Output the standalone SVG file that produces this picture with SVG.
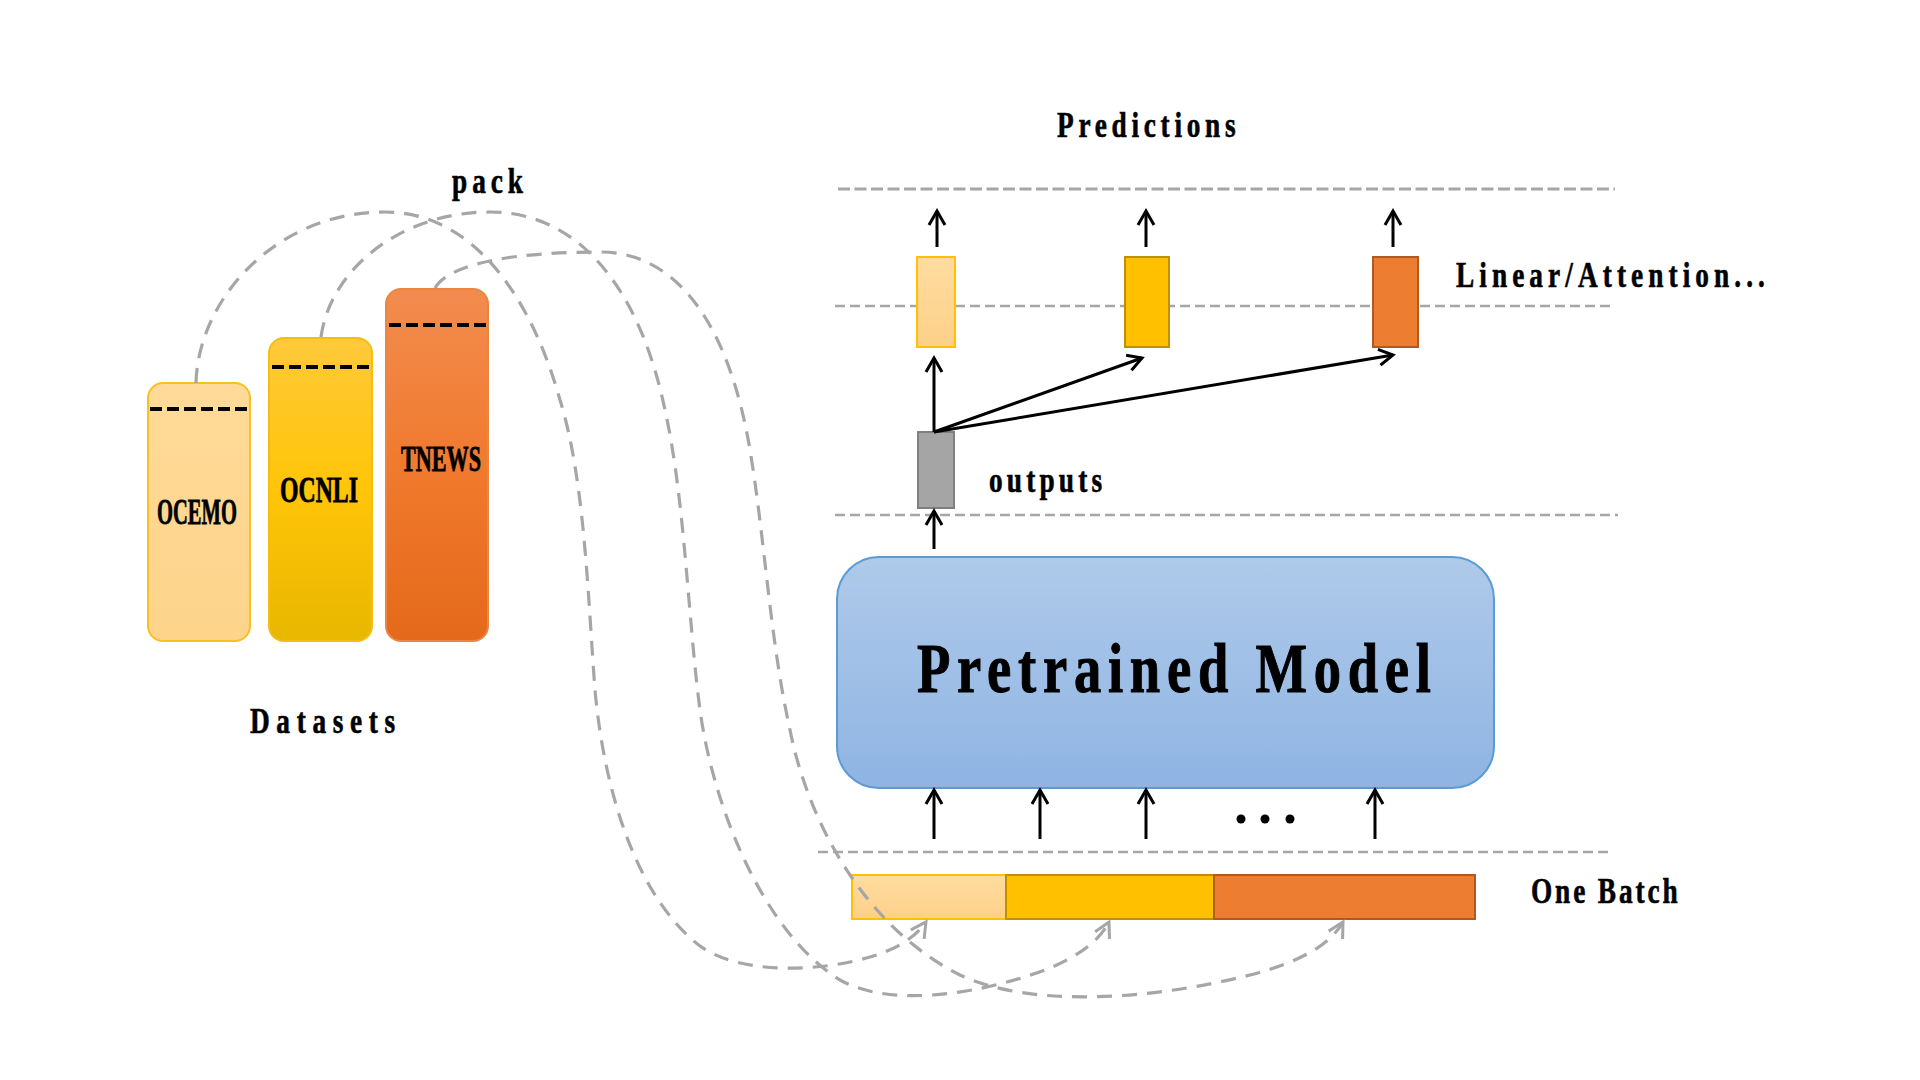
<svg xmlns="http://www.w3.org/2000/svg" width="1920" height="1080" viewBox="0 0 1920 1080">
  <defs>
    <linearGradient id="gOcemo" x1="0" y1="0" x2="0" y2="1">
      <stop offset="0" stop-color="#FFDA98"/>
      <stop offset="1" stop-color="#FED48B"/>
    </linearGradient>
    <linearGradient id="gOcnli" x1="0" y1="0" x2="0" y2="1">
      <stop offset="0" stop-color="#FFC93A"/>
      <stop offset="0.5" stop-color="#FFC508"/>
      <stop offset="1" stop-color="#E8B700"/>
    </linearGradient>
    <linearGradient id="gTnews" x1="0" y1="0" x2="0" y2="1">
      <stop offset="0" stop-color="#F28C4F"/>
      <stop offset="0.5" stop-color="#F07A2E"/>
      <stop offset="1" stop-color="#E5691A"/>
    </linearGradient>
    <linearGradient id="gModel" x1="0" y1="0" x2="0" y2="1">
      <stop offset="0" stop-color="#AFCAEA"/>
      <stop offset="1" stop-color="#8FB4E3"/>
    </linearGradient>
    <linearGradient id="gLight" x1="0" y1="0" x2="0" y2="1">
      <stop offset="0" stop-color="#FFDCA0"/>
      <stop offset="1" stop-color="#FDD088"/>
    </linearGradient>
    <marker id="arrBlack" markerUnits="userSpaceOnUse" viewBox="-20 -12 24 24" refX="0" refY="0" markerWidth="24" markerHeight="24" orient="auto" overflow="visible">
      <path d="M-14,-8 L0,0 L-14,8" fill="none" stroke="#000" stroke-width="3"/>
    </marker>
    <marker id="arrGray" markerUnits="userSpaceOnUse" viewBox="-20 -12 24 24" refX="0" refY="0" markerWidth="24" markerHeight="24" orient="auto" overflow="visible">
      <path d="M-15,-8 L0,0 L-15,8" fill="none" stroke="#A6A6A6" stroke-width="3"/>
    </marker>
    <style>
      .lbl { font-family: "Liberation Serif", "Times New Roman", serif; font-weight: bold; fill: #000; stroke: #000; stroke-width: 0.6; }
      .small { font-size: 35px; }
      .bar { font-size: 36px; stroke-width: 0.8; }
      .big { font-size: 70px; stroke-width: 1; }
      .hline { stroke: #A6A6A6; stroke-width: 2.6; stroke-dasharray: 10 5; fill: none; }
      .hline1 { stroke: #A6A6A6; stroke-width: 3.2; stroke-dasharray: 12 4.5; fill: none; }
      .bdash { stroke: #000; stroke-width: 4; stroke-dasharray: 12 5; fill: none; }
      .arrow { stroke: #000; stroke-width: 3; fill: none; marker-end: url(#arrBlack); }
      .curve { stroke: #A6A6A6; stroke-width: 3.2; stroke-dasharray: 15 10; fill: none; marker-end: url(#arrGray); }
    </style>
  </defs>

  <rect x="0" y="0" width="1920" height="1080" fill="#FFFFFF"/>

  <!-- horizontal separator lines -->
  <g id="separators">
    <line class="hline1" x1="838" y1="189" x2="1615" y2="189"/>
    <line class="hline" x1="835" y1="306" x2="1610" y2="306"/>
    <line class="hline" x1="835" y1="515" x2="1618" y2="515"/>
    <line class="hline" x1="818" y1="852" x2="1613" y2="852"/>
  </g>

  <!-- datasets -->
  <g id="ds-ocemo">
    <rect x="148" y="383" width="102" height="258" rx="15" ry="15" fill="url(#gOcemo)" stroke="#F7C21E" stroke-width="2"/>
    <line class="bdash" x1="150" y1="409" x2="248" y2="409"/>
    <text class="lbl bar" x="157" y="524" textLength="80" lengthAdjust="spacingAndGlyphs">OCEMO</text>
  </g>
  <g id="ds-ocnli">
    <rect x="269" y="338" width="103" height="303" rx="15" ry="15" fill="url(#gOcnli)" stroke="#F2BE13" stroke-width="2"/>
    <line class="bdash" x1="272" y1="367" x2="372" y2="367"/>
    <text class="lbl bar" x="280" y="502" textLength="78" lengthAdjust="spacingAndGlyphs">OCNLI</text>
  </g>
  <g id="ds-tnews">
    <rect x="386" y="289" width="102" height="352" rx="15" ry="15" fill="url(#gTnews)" stroke="#EC8442" stroke-width="2"/>
    <line class="bdash" x1="389" y1="325" x2="488" y2="325"/>
    <text class="lbl bar" x="401" y="471" textLength="80" lengthAdjust="spacingAndGlyphs">TNEWS</text>
  </g>
  <g id="label-datasets">
    <text class="lbl small" transform="translate(250,733) scale(0.78,1)" x="0" y="0" textLength="186" lengthAdjust="spacing">Datasets</text>
  </g>
  <g id="label-pack">
    <text class="lbl small" transform="translate(452,193) scale(0.78,1)" x="0" y="0" textLength="91" lengthAdjust="spacing">pack</text>
  </g>

  <!-- task heads -->
  <g id="head-a">
    <rect x="917" y="257" width="38" height="90" fill="url(#gLight)" stroke="#FFC000" stroke-width="2"/>
  </g>
  <g id="head-b">
    <rect x="1125" y="257" width="44" height="90" fill="#FFC000" stroke="#BF9000" stroke-width="2"/>
  </g>
  <g id="head-c">
    <rect x="1373" y="257" width="45" height="90" fill="#ED7D31" stroke="#AE5A21" stroke-width="2"/>
  </g>
  <g id="label-predictions">
    <text class="lbl small" transform="translate(1057,137) scale(0.78,1)" x="0" y="0" textLength="229" lengthAdjust="spacing">Predictions</text>
  </g>
  <g id="label-linear">
    <text class="lbl small" transform="translate(1456,287) scale(0.78,1)" x="0" y="0" textLength="396" lengthAdjust="spacing">Linear/Attention...</text>
  </g>

  <!-- outputs -->
  <g id="outputs-box">
    <rect x="918" y="432" width="36" height="76" fill="#A5A5A5" stroke="#7F7F7F" stroke-width="2"/>
  </g>
  <g id="label-outputs">
    <text class="lbl small" transform="translate(989,492) scale(0.78,1)" x="0" y="0" textLength="145" lengthAdjust="spacing">outputs</text>
  </g>

  <!-- pretrained model -->
  <g id="model">
    <rect x="837" y="557" width="657" height="231" rx="42" ry="42" fill="url(#gModel)" stroke="#5B9BD5" stroke-width="2"/>
    <text class="lbl big" transform="translate(917,692) scale(0.78,1)" x="0" y="0" textLength="659" lengthAdjust="spacing">Pretrained Model</text>
  </g>

  <!-- batch -->
  <g id="batch-1">
    <rect x="852" y="875" width="154" height="44" fill="url(#gLight)" stroke="#FFC000" stroke-width="2"/>
  </g>
  <g id="batch-2">
    <rect x="1006" y="875" width="208" height="44" fill="#FFC000" stroke="#BF9000" stroke-width="2"/>
  </g>
  <g id="batch-3">
    <rect x="1214" y="875" width="261" height="44" fill="#ED7D31" stroke="#AE5A21" stroke-width="2"/>
  </g>
  <g id="label-batch">
    <text class="lbl small" transform="translate(1531,903) scale(0.78,1)" x="0" y="0" textLength="188" lengthAdjust="spacing">One Batch</text>
  </g>

  <!-- ellipsis -->
  <g id="ellipsis">
    <circle cx="1241" cy="819" r="4.5" fill="#000"/>
    <circle cx="1265" cy="819" r="4.5" fill="#000"/>
    <circle cx="1290" cy="819" r="4.5" fill="#000"/>
  </g>

  <!-- connectors -->
  <g id="connectors">
    <!-- heads to predictions -->
    <line class="arrow" x1="937" y1="247" x2="937" y2="211"/>
    <line class="arrow" x1="1146" y1="247" x2="1146" y2="211"/>
    <line class="arrow" x1="1393" y1="247" x2="1393" y2="211"/>
    <!-- outputs to heads -->
    <line class="arrow" x1="934" y1="432" x2="934" y2="358"/>
    <line class="arrow" x1="934" y1="432" x2="1142" y2="358"/>
    <line class="arrow" x1="934" y1="432" x2="1393" y2="355"/>
    <!-- model to outputs -->
    <line class="arrow" x1="934" y1="549" x2="934" y2="511"/>
    <!-- batch to model -->
    <line class="arrow" x1="934" y1="839" x2="934" y2="790"/>
    <line class="arrow" x1="1040" y1="839" x2="1040" y2="790"/>
    <line class="arrow" x1="1146" y1="839" x2="1146" y2="790"/>
    <line class="arrow" x1="1375" y1="839" x2="1375" y2="790"/>
    <!-- pack curves -->
    <path class="curve" d="M196,383 C198,300 275,212 385,212 C475,212 532,300 560,400 C585,480 588,600 595,690 C605,800 640,900 700,946 C740,975 820,972 870,957 C895,950 915,938 926,922"/>
    <path class="curve" d="M321,337 C330,270 400,212 490,212 C580,212 640,290 665,410 C685,500 688,620 700,710 C712,800 760,930 840,980 C890,1008 980,995 1050,968 C1080,955 1100,940 1109,922"/>
    <path class="curve" d="M435,288 C450,262 520,252 600,252 C680,252 730,330 750,450 C765,540 770,640 790,730 C810,830 870,930 960,975 C1030,1008 1150,1000 1250,975 C1300,962 1330,945 1343,922"/>
  </g>
</svg>
